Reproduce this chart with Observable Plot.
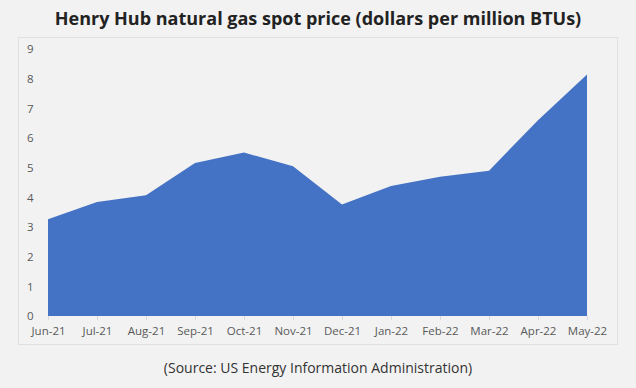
<!DOCTYPE html>
<html>
<head>
<meta charset="utf-8">
<script src="https://cdn.jsdelivr.net/npm/d3@7"></script>
<script src="https://cdn.jsdelivr.net/npm/@observablehq/plot@0.6"></script>
<style>
  html, body { margin: 0; padding: 0; background: #f2f2f2; }
  body { width: 636px; height: 388px; position: relative; overflow: hidden; font-family: "Open Sans", sans-serif; }
  #title { position: absolute; left: 0; top: 5px; width: 636px; text-align: center; font-size: 18px; font-weight: 700; color: #222; line-height: 26px; }
  #panel { position: absolute; left: 18px; top: 37px; width: 598px; height: 306px; border: 1px solid #e0e0e0; background: #f2f2f2; }
  #panel svg { display: block; }
  #source { position: absolute; left: 0; top: 358px; width: 636px; text-align: center; font-size: 14px; color: #333; line-height: 20px; }
</style>
</head>
<body>
<div id="title">Henry Hub natural gas spot price (dollars per million BTUs)</div>
<div id="panel"></div>
<div id="source">(Source: US Energy Information Administration)</div>
<script>
const months = ["Jun-21","Jul-21","Aug-21","Sep-21","Oct-21","Nov-21","Dec-21","Jan-22","Feb-22","Mar-22","Apr-22","May-22"];
const prices = [3.26, 3.84, 4.07, 5.16, 5.51, 5.05, 3.76, 4.38, 4.69, 4.90, 6.60, 8.14];
const yTicks = [0,1,2,3,4,5,6,7,8,9];

const data = months.map((m, i) => ({month: m, price: prices[i]}));

const chart = Plot.plot({
  width: 598,
  height: 306,
  marginLeft: 26,
  marginRight: 28,
  marginTop: 11,
  marginBottom: 28,
  style: {background: "transparent", fontFamily: "Open Sans, sans-serif", fontSize: "11.5px", color: "#595959"},
  x: {type: "point", domain: months, padding: 0, label: null},
  y: {domain: [0, 9], ticks: yTicks, label: null},
  marks: [
    Plot.areaY(data, {x: "month", y: "price", fill: "#4472c4", curve: "linear"}),
    Plot.axisX({tickSize: 4, tickPadding: 6, stroke: "#d9d9d9", fill: "#595959", label: null}),
    Plot.axisY({ticks: yTicks, tickSize: 0, tickPadding: 12, fill: "#595959", label: null, tickFormat: d => String(d)})
  ]
});
document.getElementById("panel").appendChild(chart);
</script>
</body>
</html>
